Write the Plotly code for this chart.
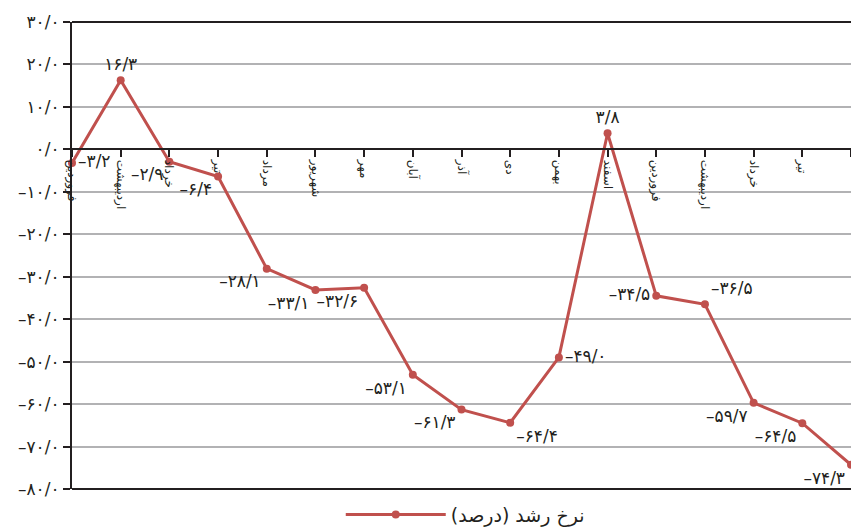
import plotly.graph_objects as go

# Monthly growth rate (percent)
months = ["فروردین", "اردیبهشت", "خرداد", "تیر", "مرداد", "شهریور", "مهر", "آبان",
          "آذر", "دی", "بهمن", "اسفند", "فروردین ", "اردیبهشت ", "خرداد ", "تیر ", "مرداد "]
growth = [-3.2, 16.3, -2.9, -6.4, -28.1, -33.1, -32.6, -53.1,
          -61.3, -64.4, -49.0, 3.8, -34.5, -36.5, -59.7, -64.5, -74.3]

y_tick_vals = [30, 20, 10, 0, -10, -20, -30, -40, -50, -60, -70, -80]
y_tick_text = ["۳۰/۰", "۲۰/۰", "۱۰/۰", "۰/۰", "–۱۰/۰", "–۲۰/۰", "–۳۰/۰", "–۴۰/۰",
               "–۵۰/۰", "–۶۰/۰", "–۷۰/۰", "–۸۰/۰"]

series_name = "نرخ رشد (درصد)"

FA_DIGITS = str.maketrans("0123456789.", "۰۱۲۳۴۵۶۷۸۹/")


def fa_number(v):
    s = f"{abs(v):.1f}".translate(FA_DIGITS)
    return ("–" if v < 0 else "") + s


label_pos = ["middle right", "top center", "bottom left", "bottom left", "bottom left",
             "bottom left", "bottom left", "bottom left", "bottom left", "bottom right",
             "middle right", "top center", "middle left", "top right", "bottom left",
             "bottom left", "bottom left"]

RED = "#c0504d"
INK = "#231f20"
FONT = "DejaVu Sans"

fig = go.Figure()
fig.add_trace(go.Scatter(
    x=list(range(len(months))),
    y=growth,
    mode="lines+markers+text",
    name=series_name,
    line=dict(color=RED, width=3),
    marker=dict(color=RED, size=8),
    text=[fa_number(v) for v in growth],
    textposition=label_pos,
    textfont=dict(family=FONT, size=17, color=INK),
    cliponaxis=False,
))

fig.update_layout(
    width=851, height=530,
    margin=dict(l=72, r=0, t=22, b=41, autoexpand=False),
    paper_bgcolor="white", plot_bgcolor="white",
    font=dict(family=FONT, color=INK),
    showlegend=True,
    legend=dict(orientation="h", x=0.345, xanchor="left",
                y=-0.014, yanchor="top",
                font=dict(family=FONT, size=19, color=INK), itemwidth=100),
    xaxis=dict(
        tickmode="array",
        tickvals=list(range(len(months))),
        ticktext=months,
        range=[0, len(months) - 1],
        anchor="free", position=80 / 110,
        showline=True, linecolor=INK, linewidth=2,
        ticks="outside", ticklen=7, tickwidth=2, tickcolor=INK,
        tickangle=90,
        tickfont=dict(family=FONT, size=12, color=INK),
        showgrid=False, zeroline=False,
    ),
    yaxis=dict(
        range=[-80, 30],
        tickmode="array", tickvals=y_tick_vals, ticktext=y_tick_text,
        tickfont=dict(family=FONT, size=17, color=INK),
        showline=True, linecolor=INK, linewidth=2,
        ticks="outside", ticklen=7, tickwidth=2, tickcolor=INK,
        showgrid=True, gridcolor="#b2b2b4", gridwidth=2,
        zeroline=False,
    ),
    shapes=[
        dict(type="line", xref="x domain", yref="y domain", x0=0, x1=1, y0=1, y1=1,
             line=dict(color=INK, width=2)),
        dict(type="line", xref="x domain", yref="y domain", x0=0, x1=1, y0=0, y1=0,
             line=dict(color=INK, width=2)),
    ],
)

fig.write_html("out.html")
